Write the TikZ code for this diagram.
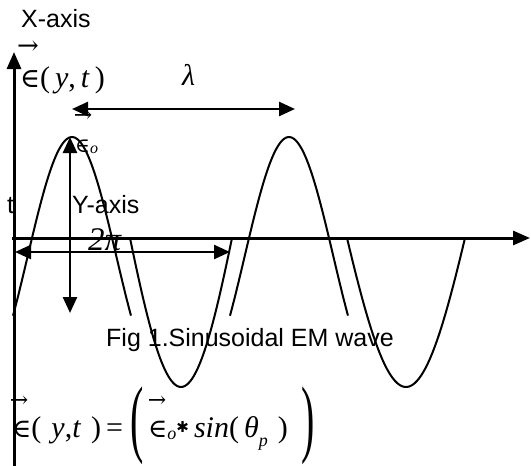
\documentclass[tikz,border=0pt]{standalone}
\usepackage{fontspec}
\setmainfont{Liberation Serif}
\setsansfont{Liberation Sans}
\newfontfamily\symserif{DejaVu Serif}
\newfontfamily\symsans{DejaVu Sans}
\usetikzlibrary{arrows.meta}
\tikzset{
	axis/.style={draw=black,line width=3pt,-{Triangle[length=17pt,width=14pt]}},
	wave/.style={draw=black,line width=2pt},
	span/.style={draw=black,line width=2.5pt,
		{Triangle[length=16pt,width=14pt]}-{Triangle[length=16pt,width=14pt]}},
	lbl/.style={font=\sffamily\fontsize{25}{30}\selectfont,inner sep=0pt,anchor=base west},
	eqn/.style={font=\fontsize{30}{36}\selectfont,inner sep=0pt,anchor=base west},
	vecarr/.style={font=\symserif\fontsize{22}{24}\selectfont,inner sep=0pt},
	bigpar/.style={font=\fontsize{40}{48}\selectfont,inner sep=0pt},
}

\begin{document}
\begin{tikzpicture}[x=1pt,y=-1pt]
	\useasboundingbox (0,0) rectangle (531,466);
	% axes
	\coordinate (ybot) at (14,466);
	\coordinate (ytop) at (14,52);
	\coordinate (xleft) at (12,238);
	\coordinate (xright) at (530,238);
	\draw[axis] (ybot) -- (ytop);
	\draw[axis] (xleft) -- (xright);
	% wave pieces: centre/half width/height/extent
	\foreach \cx/\w/\a/\u in {72/40/101/1.475,181/51/-149/1,289/40/101/1.475,406/59/-149/1}
	\draw[wave] plot[domain=-\u:\u,samples=60,smooth]
		({\cx+\w*\x},{238-\a*(cos(1.412*\x r)-0.158)/0.842});
	% spans
	\coordinate (lamL) at (72,109);
	\coordinate (lamR) at (295,109);
	\coordinate (piL) at (15,252);
	\coordinate (piR) at (230,252);
	\coordinate (eoT) at (70,137);
	\coordinate (eoB) at (70,313);
	\foreach \p/\q in {lamL/lamR,piL/piR,eoT/eoB}
	\draw[span] (\p) -- (\q);
	% labels
	\node[lbl] (xlab) at (21,27) {X-axis};
	\node[lbl] (tlab) at (7,213) {t};
	\node[lbl] (ylab) at (72,213) {Y-axis};
	\node[lbl] (cap) at (106,346) {Fig 1.Sinusoidal EM wave};
	\node[vecarr,font=\symserif\fontsize{26}{28}\selectfont] (vtop) at (28,48) {→};
	\node[eqn] (eyt) at (20,87) {{\symserif\fontsize{27}{30}\selectfont ∈}(\,\textit{y},\,\textit{t}\,)};
	\node[eqn] (lam) at (182,85) {\textit{λ}};
	\node[vecarr] (veo) at (83,117) {→};
	\node[eqn,font=\fontsize{20}{24}\selectfont] (eo) at (75,152)
		{{\symserif ∈}\raisebox{-1pt}{\fontsize{16}{18}\selectfont\textit{o}}};
	\node[eqn,font=\fontsize{33}{36}\selectfont] (twopi) at (88,250) {\textit{2π}};
	% field equation
	\node[vecarr] (vl) at (19,402) {→};
	\node[eqn] (lhs) at (12,437)
		{{\symserif\fontsize{26}{30}\selectfont ∈}(\,\,\textit{y},\textit{t}\,\,)\,=};
	\node[bigpar] (pl) at (137,426) {\scalebox{1}[2.15]{(}};
	\node[vecarr] (vr) at (157,402) {→};
	\node[eqn] (rhs) at (148,437)
		{{\symserif\fontsize{26}{30}\selectfont ∈}\raisebox{-2pt}{\fontsize{18}{20}\selectfont\textit{o}}%
		\raisebox{5pt}{\symsans\fontsize{15}{18}\selectfont ✱}\,%
		\textit{sin}(\,\textit{θ}\raisebox{-9pt}{\fontsize{18}{20}\selectfont\textit{p}}\,\,)};
	\node[bigpar] (pr) at (308,426) {\scalebox{1}[2.15]{)}};
\end{tikzpicture}
\end{document}
